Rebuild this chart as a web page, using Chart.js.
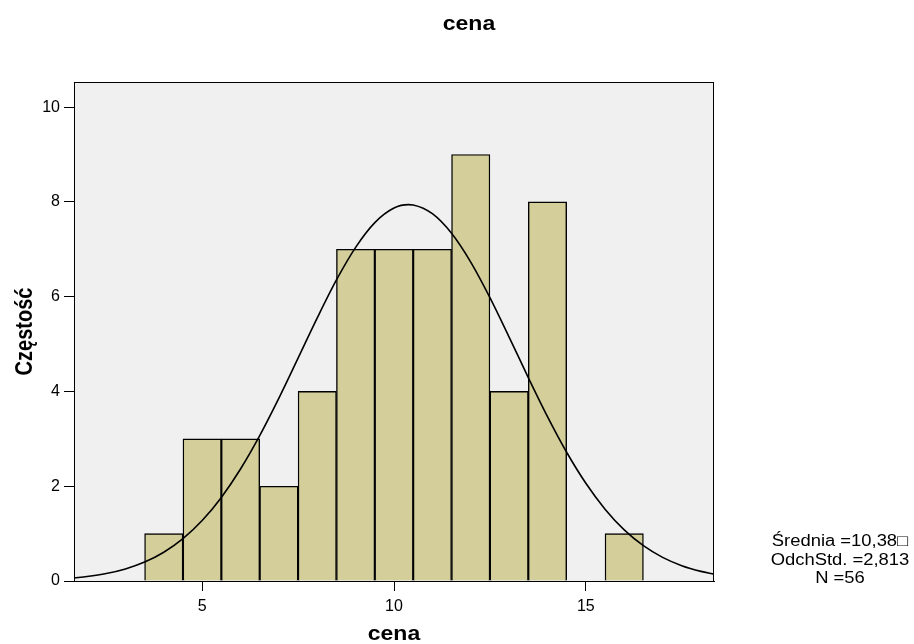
<!DOCTYPE html>
<html>
<head>
<meta charset="utf-8">
<script src="https://cdn.jsdelivr.net/npm/chart.js@4.4.0/dist/chart.umd.min.js"></script>
<style>
  html, body { margin: 0; padding: 0; background: #ffffff; }
  #wrap { width: 914px; height: 644px; position: relative; }
</style>
</head>
<body>
<div id="wrap"><canvas id="c" width="914" height="644"></canvas></div>
<script>
// ---- data ----
const chartTitle = 'cena';
const xAxisTitle = 'cena';
const yAxisTitle = 'Częstość';
const binCenters = [4, 5, 6, 7, 8, 9, 10, 11, 12, 13, 14, 16];
const frequencies = [1, 3, 3, 2, 4, 7, 7, 7, 9, 4, 8, 1];
const curveX = [1.66, 2, 2.5, 3, 3.5, 4, 4.5, 5, 5.5, 6, 6.5, 7, 7.5, 8, 8.5, 9, 9.5, 10, 10.38, 10.5, 11, 11.5, 12, 12.5, 13, 13.5, 14, 14.5, 15, 15.5, 16, 16.5, 17, 17.5, 18, 18.34];
const curveY = [0.065, 0.094, 0.157, 0.254, 0.399, 0.607, 0.893, 1.275, 1.764, 2.363, 3.067, 3.858, 4.702, 5.552, 6.353, 7.041, 7.563, 7.870, 7.942, 7.935, 7.751, 7.337, 6.729, 5.979, 5.147, 4.293, 3.470, 2.717, 2.062, 1.516, 1.079, 0.745, 0.498, 0.323, 0.203, 0.145];
const xTickValues = [5, 10, 15];
const yTickValues = [0, 2, 4, 6, 8, 10];
const statsLines = ['Średnia =10,38□', 'OdchStd. =2,813', 'N =56'];

const FONT = '"Liberation Sans", Arial, sans-serif';

const barData = binCenters.map((x, i) => ({ x: x, y: frequencies[i] }));
const curveData = curveX.map((x, i) => ({ x: x, y: curveY[i] }));

const decorPlugin = {
  id: 'decor',
  beforeDatasetsDraw(chart) {
    const { ctx, chartArea: a } = chart;
    ctx.save();
    ctx.fillStyle = '#f0f0f0';
    ctx.fillRect(a.left, a.top, a.right - a.left, a.bottom - a.top);
    ctx.restore();
  },
  afterDatasetsDraw(chart) {
    const { ctx, chartArea: a } = chart;
    ctx.save();
    ctx.strokeStyle = '#000';
    ctx.lineWidth = 1;
    ctx.strokeRect(a.left + 0.5, a.top + 0.5, a.right - a.left - 1, a.bottom - a.top);
    ctx.restore();
  },
  afterDraw(chart) {
    const { ctx, chartArea: a } = chart;
    ctx.save();
    ctx.fillStyle = '#000';
    // chart title
    ctx.font = 'bold 20px ' + FONT;
    ctx.textAlign = 'center';
    ctx.textBaseline = 'alphabetic';
    ctx.save(); ctx.translate(469, 30); ctx.scale(1.15, 1); ctx.fillText(chartTitle, 0, 0); ctx.restore();
    // x axis title
    const xc = (a.left + a.right) / 2;
    ctx.save(); ctx.translate(xc, 640); ctx.scale(1.15, 1); ctx.fillText(xAxisTitle, 0, 0); ctx.restore();
    // y axis title
    ctx.save();
    ctx.translate(32, (a.top + a.bottom) / 2);
    ctx.rotate(-Math.PI / 2);
    ctx.scale(1, 1.15);
    ctx.fillText(yAxisTitle, 0, 0);
    ctx.restore();
    // stats box
    ctx.font = '16px ' + FONT;
    const baseY = 546;
    statsLines.forEach((t, i) => {
      ctx.save(); ctx.translate(840, baseY + i * 18.5); ctx.scale(1.15, 1); ctx.fillText(t, 0, 0); ctx.restore();
    });
    ctx.restore();
  }
};

new Chart(document.getElementById('c'), {
  type: 'bar',
  data: {
    datasets: [
      {
        type: 'line',
        data: curveData,
        borderColor: '#000',
        borderWidth: 1.6,
        pointRadius: 0,
        fill: false,
        cubicInterpolationMode: 'monotone',
        order: 0
      },
      {
        type: 'bar',
        data: barData,
        backgroundColor: '#d3ce9a',
        borderColor: '#000',
        borderWidth: 1.4,
        barPercentage: 1,
        categoryPercentage: 1,
        order: 1
      }
    ]
  },
  options: {
    responsive: false,
    animation: false,
    events: [],
    layout: { padding: { left: 0, right: 200, top: 82, bottom: 0 } },
    plugins: { legend: { display: false }, tooltip: { enabled: false }, title: { display: false } },
    scales: {
      x: {
        type: 'linear',
        min: 1.66,
        max: 18.34,
        offset: false,
        afterFit(scale) { scale.height = 63; },
        afterBuildTicks(scale) { scale.ticks = xTickValues.map(v => ({ value: v })); },
        grid: { offset: false, drawOnChartArea: false, drawTicks: true, tickLength: 10, color: '#000', tickWidth: 1 },
        border: { display: true, color: '#000', width: 1 },
        ticks: { color: '#000', font: { family: FONT, size: 16 }, padding: 6, maxRotation: 0 }
      },
      y: {
        type: 'linear',
        min: 0,
        max: 10.53,
        afterFit(scale) { scale.width = 74; },
        afterBuildTicks(scale) { scale.ticks = yTickValues.map(v => ({ value: v })); },
        grid: { drawOnChartArea: false, drawTicks: true, tickLength: 10, color: '#000', tickWidth: 1 },
        border: { display: true, color: '#000', width: 1 },
        ticks: { color: '#000', font: { family: FONT, size: 16 }, padding: 4 }
      }
    }
  },
  plugins: [decorPlugin]
});
</script>
</body>
</html>
